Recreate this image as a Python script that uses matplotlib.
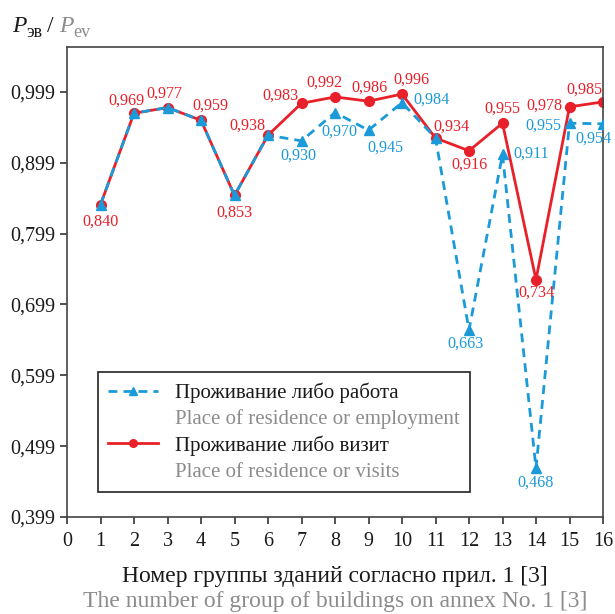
import matplotlib
matplotlib.use("Agg")
import matplotlib.pyplot as plt
from matplotlib.lines import Line2D
from matplotlib.patches import Patch

plt.rcParams['font.family'] = ['Liberation Serif', 'DejaVu Serif']

groups = list(range(1, 17))
employment = [0.840, 0.969, 0.977, 0.959, 0.853, 0.938, 0.930, 0.970,
              0.945, 0.984, 0.934, 0.663, 0.911, 0.468, 0.955, 0.954]
visits = [0.840, 0.969, 0.977, 0.959, 0.853, 0.938, 0.983, 0.992,
          0.986, 0.996, 0.934, 0.916, 0.955, 0.734, 0.978, 0.985]
yticks = [0.399, 0.499, 0.599, 0.699, 0.799, 0.899, 0.999]
xticks = list(range(0, 17))

label_emp = "Проживание либо работа"
label_emp_en = "Place of residence or employment"
label_vis = "Проживание либо визит"
label_vis_en = "Place of residence or visits"
xlabel_ru = "Номер группы зданий согласно прил. 1 [3]"
xlabel_en = "The number of group of buildings on annex No. 1 [3]"

# label offsets in pixels (dx, dy; dy positive = up)
vis_offsets = [(0, -17), (-8, 13), (-3, 14), (9, 15), (0, -17), (-21, 10),
               (-21, 8), (-11, 14), (1, 14), (9, 14), (16, 11), (1, -14),
               (0, 15), (0, -13), (-25, 1), (-19, 12)]
emp_offsets = [None, None, None, None, None, None,
               (-3, -15), (4, -19), (17, -17), (29, 3), None, (-3, -14),
               (29, 1), (0, -15), (-26, -2), (-10, -15)]

RED = '#e8202a'
BLUE = '#1a9ad9'
GRAY = '#8c8c8c'

fig = plt.figure(figsize=(6.15, 6.14), dpi=100)
ax = fig.add_axes([67/615, 1-517/614, (603-67)/615, (517-47)/614])

ax.plot(groups, visits, color=RED, lw=2.0, marker='o', ms=7, zorder=2)
ax.plot(groups, employment, color=BLUE, lw=2.0, ls=(0, (3.2, 2.2)), marker='^',
        ms=7.5, zorder=3)

def fmt(v):
    return f"{v:.3f}".replace('.', ',')

for x, v, off in zip(groups, visits, vis_offsets):
    ax.annotate(fmt(v), (x, v), xytext=off, textcoords='offset pixels',
                ha='center', va='center', color=RED, fontsize=11.6, zorder=5)
for x, v, off in zip(groups, employment, emp_offsets):
    if off is None:
        continue
    ax.annotate(fmt(v), (x, v), xytext=off, textcoords='offset pixels',
                ha='center', va='center', color=BLUE, fontsize=11.6, zorder=5)

ax.set_xlim(0, 16)
ax.set_ylim(0.399, 1.0625)
ax.set_xticks(xticks)
ax.set_xticklabels([str(t) for t in xticks])
ax.set_yticks(yticks)
ax.set_yticklabels([fmt(t) for t in yticks])
ax.tick_params(direction='out', length=5, width=1.2, colors='#333333',
               labelsize=14.5, labelcolor='#1a1a1a')
ax.tick_params(axis='x', pad=6)
for s in ax.spines.values():
    s.set_color('#444444')
    s.set_linewidth(1.2)

handles = [Line2D([], [], color=BLUE, lw=2.0, ls=(0, (3.2, 2.2)), marker='^', ms=5.5),
           Patch(visible=False),
           Line2D([], [], color=RED, lw=2.0, marker='o', ms=5.5),
           Patch(visible=False)]
labels = [label_emp, label_emp_en, label_vis, label_vis_en]
leg = ax.legend(handles, labels, loc='lower left', bbox_to_anchor=(31/536, 25/470),
                borderaxespad=0, fancybox=False, edgecolor='#222222',
                framealpha=1, fontsize=15, handlelength=2.4, handletextpad=0.8,
                labelspacing=0.3, borderpad=0.5)
leg.get_frame().set_linewidth(1.2)
for t, c in zip(leg.get_texts(), ['#1a1a1a', GRAY, '#1a1a1a', GRAY]):
    t.set_color(c)

fig.text(335/615, 1-582/614, xlabel_ru, ha='center', va='baseline',
         fontsize=17, color='#1a1a1a')
fig.text(335/615, 1-607/614, xlabel_en, ha='center', va='baseline',
         fontsize=17, color=GRAY)

# y-axis title
fig.text(12/615, 1-32/614, "P", fontsize=17, style='italic', color='#1a1a1a', va='baseline')
fig.text(26/615, 1-37/614, "эв", fontsize=13, color='#1a1a1a', va='baseline')
fig.text(47/615, 1-32/614, "/", fontsize=17, color='#1a1a1a', va='baseline')
fig.text(59/615, 1-32/614, "P", fontsize=17, style='italic', color=GRAY, va='baseline')
fig.text(73/615, 1-37/614, "ev", fontsize=13, color=GRAY, va='baseline')

fig.savefig('out.png', dpi=100)
